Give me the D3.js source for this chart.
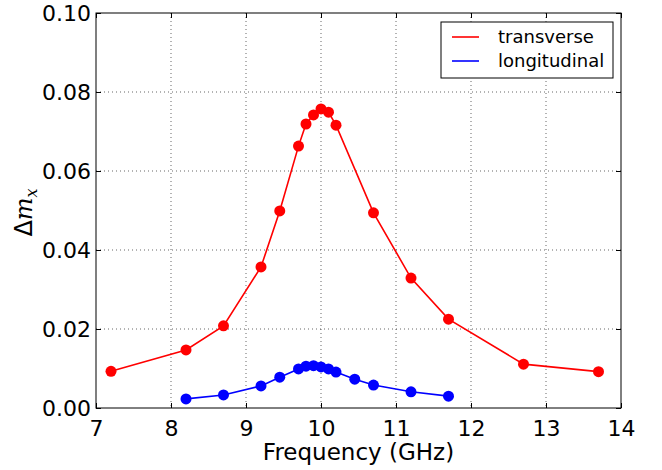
<!DOCTYPE html>
<html>
<head>
<meta charset="utf-8">
<script src="https://cdn.jsdelivr.net/npm/d3@7"></script>
<style>
  body { margin: 0; background: #fff; }
  svg { font-family: "DejaVu Sans", sans-serif; }
</style>
</head>
<body>
<div id="plot"></div>
<script>
const width = 662
const height = 470
const margin = {top: 13, right: 41, bottom: 62, left: 96}

// data
const transFreq = [7.2, 8.2, 8.7, 9.2, 9.45, 9.7, 9.8, 9.9, 10.0, 10.1, 10.2, 10.7, 11.2, 11.7, 12.7, 13.7]
const transDm = [0.0093, 0.0147, 0.0208, 0.0357, 0.0499, 0.0663, 0.0719, 0.0742, 0.0757, 0.0749, 0.0716, 0.0494, 0.0329, 0.0225, 0.0111, 0.0092]
const longFreq = [8.2, 8.7, 9.2, 9.45, 9.7, 9.8, 9.9, 10.0, 10.1, 10.2, 10.45, 10.7, 11.2, 11.7]
const longDm = [0.0023, 0.0033, 0.0056, 0.0078, 0.0099, 0.0106, 0.0107, 0.0104, 0.0099, 0.0091, 0.0073, 0.0058, 0.0041, 0.0030]
const xTicks = [7, 8, 9, 10, 11, 12, 13, 14]
const yTicks = [0, 0.02, 0.04, 0.06, 0.08, 0.10]

const svg = d3.select('div#plot').append('svg')
    .attr('width', width)
    .attr('height', height)

const iw = width - margin.left - margin.right
const ih = height - margin.top - margin.bottom

const x = d3.scaleLinear().domain([7, 14]).range([margin.left, margin.left + iw])
const y = d3.scaleLinear().domain([0, 0.10]).range([margin.top + ih, margin.top])

// grid
svg.append('g').selectAll('line')
    .data(xTicks.slice(1, -1))
    .join('line')
    .attr('x1', d => x(d)).attr('x2', d => x(d))
    .attr('y1', margin.top).attr('y2', margin.top + ih)
    .attr('stroke', '#000').attr('stroke-width', 0.6).attr('stroke-dasharray', '1,3')
svg.append('g').selectAll('line')
    .data(yTicks.slice(1, -1))
    .join('line')
    .attr('y1', d => y(d)).attr('y2', d => y(d))
    .attr('x1', margin.left).attr('x2', margin.left + iw)
    .attr('stroke', '#000').attr('stroke-width', 0.6).attr('stroke-dasharray', '1,3')

// axes with inward ticks on all sides
const fmtY = d3.format('.2f')
svg.append('g')
    .attr('transform', 'translate(0,' + (margin.top + ih) + ')')
    .call(d3.axisBottom(x).tickValues(xTicks).tickSize(-5).tickPadding(12).tickFormat(d3.format('d')))
    .call(g => g.select('.domain').remove())
svg.append('g')
    .attr('transform', 'translate(0,' + margin.top + ')')
    .call(d3.axisTop(x).tickValues(xTicks).tickSize(-5).tickFormat(''))
    .call(g => g.select('.domain').remove())
svg.append('g')
    .attr('transform', 'translate(' + margin.left + ',0)')
    .call(d3.axisLeft(y).tickValues(yTicks).tickSize(-5).tickPadding(5).tickFormat(fmtY))
    .call(g => g.select('.domain').remove())
svg.append('g')
    .attr('transform', 'translate(' + (margin.left + iw) + ',0)')
    .call(d3.axisRight(y).tickValues(yTicks).tickSize(-5).tickFormat(''))
    .call(g => g.select('.domain').remove())
svg.selectAll('.tick text')
    .attr('font-family', '"DejaVu Sans", sans-serif')
    .attr('font-size', 22)
    .attr('fill', '#000')
svg.selectAll('.tick line').attr('stroke', '#000')

svg.append('rect')
    .attr('x', margin.left).attr('y', margin.top)
    .attr('width', iw).attr('height', ih)
    .attr('fill', 'none').attr('stroke', '#000').attr('stroke-width', 1)

// series
function drawSeries(xs, ys, color) {
    const pts = xs.map((v, i) => [v, ys[i]])
    svg.append('path')
        .datum(pts)
        .attr('d', d3.line().x(d => x(d[0])).y(d => y(d[1])))
        .attr('fill', 'none')
        .attr('stroke', color)
        .attr('stroke-width', 1.6)
    svg.append('g').selectAll('circle')
        .data(pts)
        .join('circle')
        .attr('cx', d => x(d[0]))
        .attr('cy', d => y(d[1]))
        .attr('r', 5.5)
        .attr('fill', color)
}
drawSeries(transFreq, transDm, '#ff0000')
drawSeries(longFreq, longDm, '#0000ff')

// axis labels
svg.append('text')
    .attr('x', margin.left + iw / 2)
    .attr('y', 460)
    .attr('text-anchor', 'middle')
    .attr('font-size', 23)
    .text('Frequency (GHz)')

const yl = svg.append('text')
    .attr('transform', 'translate(32,' + (margin.top + ih / 2 + 2) + ') rotate(-90)')
    .attr('text-anchor', 'middle')
    .attr('font-size', 24)
yl.append('tspan').text('Δ')
yl.append('tspan').attr('font-family', '"DejaVu Serif", serif').attr('font-style', 'italic').text('m')
yl.append('tspan').attr('font-family', '"DejaVu Serif", serif').attr('font-style', 'italic')
    .attr('font-size', 16).attr('dy', 5).text('x')

// legend
const lg = svg.append('g')
lg.append('rect')
    .attr('x', 441).attr('y', 22).attr('width', 172).attr('height', 56)
    .attr('fill', '#fff').attr('stroke', '#000').attr('stroke-width', 1)
const items = [['transverse', '#ff0000'], ['longitudinal', '#0000ff']]
items.forEach((it, i) => {
    const yy = 37 + i * 24
    lg.append('line')
        .attr('x1', 452).attr('x2', 479).attr('y1', yy).attr('y2', yy)
        .attr('stroke', it[1]).attr('stroke-width', 1.6)
    lg.append('text')
        .attr('x', 498).attr('y', yy + 6)
        .attr('font-size', 18)
        .text(it[0])
})
</script>
</body>
</html>
